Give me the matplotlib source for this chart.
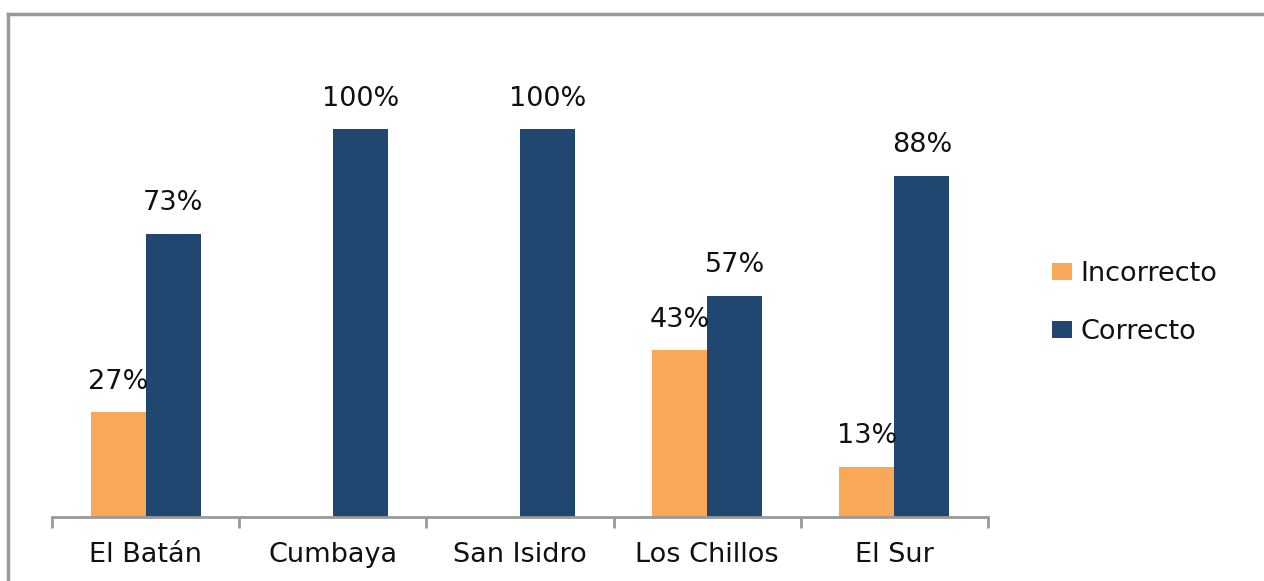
import numpy as np
import matplotlib
matplotlib.use('Agg')
import matplotlib.pyplot as plt
from matplotlib.patches import Patch
from matplotlib.lines import Line2D

# data
zonas = ['El Batán', 'Cumbaya', 'San Isidro', 'Los Chillos', 'El Sur']
incorrecto = [27, 0, 0, 43, 13]
correcto = [73, 100, 100, 57, 88]
series = ['Incorrecto', 'Correcto']
colores = ['#F9A857', '#1F4770']

plt.rcParams['font.family'] = ['DejaVu Sans']
FS = 19.5

fig = plt.figure(figsize=(12.64, 5.81), dpi=100)
ax = fig.add_axes([52 / 1264, 1 - 517 / 581, (988 - 52) / 1264, 0.80])

x = np.arange(len(zonas))
w = 0.294
for vals, off, col in [(incorrecto, -w / 2, colores[0]), (correcto, w / 2, colores[1])]:
    for xi, v in zip(x, vals):
        if v == 0:
            continue
        ax.bar(xi + off, v / 100, w, color=col, zorder=2)
        ax.text(xi + off, v / 100 + 0.045, str(v) + '%', ha='center', va='bottom',
                fontsize=FS, color='#111111')

ax.set_xlim(-0.5, len(zonas) - 0.5)
ax.set_ylim(0, 1.0 / (388 / (0.80 * 581)))
for s in ['top', 'right', 'left']:
    ax.spines[s].set_visible(False)
ax.spines['bottom'].set_color('#999999')
ax.spines['bottom'].set_linewidth(2)
ax.set_yticks([])
ax.set_xticks(x)
ax.set_xticklabels(zonas, fontsize=FS, color='#111111')
ax.tick_params(axis='x', which='major', length=0, pad=18)
ax.set_xticks(np.arange(-0.5, len(zonas), 1.0), minor=True)
ax.tick_params(axis='x', which='minor', length=8, width=2, color='#999999')

handles = [Patch(facecolor=c, edgecolor='none') for c in colores]
fig.legend(handles, series, loc='center left', bbox_to_anchor=(1052 / 1264, 1 - 303 / 581),
           frameon=False, fontsize=FS, handlelength=0.75, handleheight=0.6,
           handletextpad=0.3, labelspacing=1.19, borderpad=0, borderaxespad=0,
           labelcolor='#111111')

# outer frame (top and left only)
fig.add_artist(Line2D([8 / 1264, 8 / 1264], [0, 1 - 14 / 581], transform=fig.transFigure,
                      color='#999999', lw=2.5))
fig.add_artist(Line2D([8 / 1264, 1], [1 - 14 / 581, 1 - 14 / 581], transform=fig.transFigure,
                      color='#999999', lw=2.5))

fig.savefig('out.png', dpi=100)
